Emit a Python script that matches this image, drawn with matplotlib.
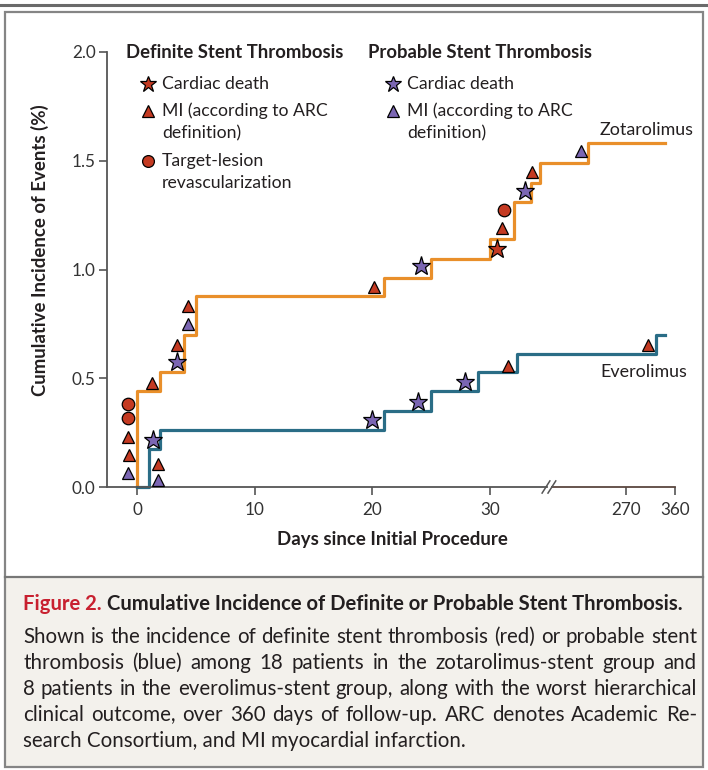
import numpy as np
import matplotlib
matplotlib.use('Agg')
import matplotlib.pyplot as plt
from matplotlib.lines import Line2D
from matplotlib.patches import Rectangle

W, H = 708, 770

# cumulative incidence (%) step curves: day of each step, level after the step
zot_days = [0, 0, 2, 4, 5, 21, 25, 30, 32, 33.5, 34.2, 154, 342]
zot_pct = [0, 0.44, 0.53, 0.70, 0.88, 0.96, 1.05, 1.14, 1.31, 1.40, 1.49, 1.58, 1.58]
evr_days = [0, 1, 2, 21, 25, 29, 32.3, 325, 342]
evr_pct = [0, 0.175, 0.26, 0.35, 0.44, 0.53, 0.61, 0.70, 0.70]

# individual events (worst outcome), d = definite, p = probable
zot_ev_days = [-0.74, -0.65, -0.74, -0.74, -0.74, 1.25, 3.42, 3.37, 4.36, 4.36,
               20.1, 24.1, 30.6, 31.0, 31.2, 33.0, 33.6, 133]
zot_ev_y = [0.064, 0.147, 0.23, 0.316, 0.38, 0.477, 0.576, 0.653, 0.75, 0.83,
            0.92, 1.017, 1.093, 1.19, 1.274, 1.36, 1.446, 1.547]
zot_ev_type = ['pMI', 'dMI', 'dMI', 'dTLR', 'dTLR', 'dMI', 'pCD', 'dMI', 'pMI', 'dMI',
               'dMI', 'pCD', 'dCD', 'dMI', 'dTLR', 'pCD', 'dMI', 'pMI']
evr_ev_days = [1.81, 1.76, 1.33, 20.0, 23.9, 27.9, 31.5, 310]
evr_ev_y = [0.032, 0.106, 0.216, 0.308, 0.392, 0.484, 0.558, 0.653]
evr_ev_type = ['pMI', 'dMI', 'pCD', 'pCD', 'pCD', 'pCD', 'dMI', 'dMI']

x_ticks = [0, 10, 20, 30, 270, 360]
y_ticks = [0, 0.5, 1.0, 1.5, 2.0]

caption_title = 'Figure 2.'
caption_head = 'Cumulative Incidence of Definite or Probable Stent Thrombosis.'
caption_lines = [
    'Shown is the incidence of definite stent thrombosis (red) or probable stent',
    'thrombosis (blue) among 18 patients in the zotarolimus-stent group and',
    '8 patients in the everolimus-stent group, along with the worst hierarchical',
    'clinical outcome, over 360 days of follow-up. ARC denotes Academic Re-',
    'search Consortium, and MI myocardial infarction.',
]

ORANGE = '#e98f2a'
TEAL = '#2a6d86'
RED = '#c43a22'
PURPLE = '#7b66b3'
TXT = '#231f20'
AX = '#555555'

# marker, colour, size in the plot, size in the legend
marker_style = {
    'dCD': ('*', RED, 14, 12),
    'pCD': ('*', PURPLE, 14, 12),
    'dMI': ('^', RED, 9, 8.5),
    'pMI': ('^', PURPLE, 9, 8.5),
    'dTLR': ('o', RED, 9, 8.5),
}

plt.rcParams['font.family'] = ['Lato', 'DejaVu Sans']


# broken x axis: days 0-35 linear, then compressed to reach 270 and 360
def fwd(d):
    d = np.asarray(d, dtype=float)
    return np.where(d <= 35, d, np.where(d <= 270, 35 + (d - 35) * 6.52 / 235,
                                         41.52 + (d - 270) * 4.19 / 90))


def inv(u):
    u = np.asarray(u, dtype=float)
    return np.where(u <= 35, u, np.where(u <= 41.52, 35 + (u - 35) * 235 / 6.52,
                                         270 + (u - 41.52) * 90 / 4.19))


def fx(px):
    return px / W


def fy(py):
    return 1 - py / H


fig = plt.figure(figsize=(W / 100, H / 100), dpi=100)

# frame and caption box
fig.add_artist(Rectangle((fx(5), fy(767)), fx(698), (767 - 577) / H, transform=fig.transFigure,
                         facecolor='#f3f1ec', edgecolor='none', zorder=0))
fig.add_artist(Rectangle((fx(5), fy(767)), fx(698), (767 - 12) / H, transform=fig.transFigure,
                         facecolor='none', edgecolor='#858585', lw=1.6, zorder=5))
fig.add_artist(Line2D([fx(5), fx(703)], [fy(577), fy(577)], transform=fig.transFigure,
                      color='#777777', lw=1.6, zorder=5))
fig.add_artist(Line2D([0, 1], [fy(5), fy(5)], transform=fig.transFigure,
                      color='#6a6a6a', lw=2.2, zorder=5))

ax = fig.add_axes([fx(106.7), fy(487), fx(675 - 106.7), (487 - 52) / H])
ax.set_xscale('function', functions=(fwd, inv))
ax.set_xlim(-2.57, 360)
ax.set_ylim(0, 2.0)
ax.patch.set_alpha(0)

ax.step(zot_days, zot_pct, where='post', color=ORANGE, lw=2.3, zorder=2, clip_on=False)
ax.step(evr_days, evr_pct, where='post', color=TEAL, lw=2.3, zorder=2, clip_on=False)

for days, ys, types in [(zot_ev_days, zot_ev_y, zot_ev_type), (evr_ev_days, evr_ev_y, evr_ev_type)]:
    for d, y, t in zip(days, ys, types):
        m, c, s, _ = marker_style[t]
        ax.plot(d, y, marker=m, color=c, ms=s, mec='black', mew=0.9, ls='none',
                zorder=4, clip_on=False)

for s in ['top', 'right']:
    ax.spines[s].set_visible(False)
ax.spines['left'].set_color(AX)
ax.spines['left'].set_linewidth(1.3)
ax.spines['bottom'].set_color(AX)
ax.spines['bottom'].set_linewidth(1.3)
ax.spines['bottom'].set_bounds(-2.57, float(inv(34.85)))

# after the break the axis continues in a darker brown tone
xt = ax.get_xaxis_transform()
ax.plot([float(inv(35.3)), 360], [0, 0], color='#5b463f', lw=1.3, transform=xt, clip_on=False)
for c in [34.75, 35.25]:
    ax.plot([float(inv(c - 0.33)), float(inv(c + 0.33))], [-0.014, 0.014], color=AX, lw=1.1,
            transform=xt, clip_on=False)

ax.set_xticks(x_ticks)
ax.set_xticklabels([str(v) for v in x_ticks])
ax.set_yticks(y_ticks)
ax.set_yticklabels(['%.1f' % v for v in y_ticks])
ax.tick_params(axis='both', direction='out', length=6, width=1.2, color=AX,
               labelsize=12.3, labelcolor='#333333')
ax.tick_params(axis='x', pad=4.5)
ax.tick_params(axis='y', pad=2)
ax.minorticks_off()

# axis titles
fig.text(fx(40), fy(250), 'Cumulative Incidence of Events (%)', rotation=90, ha='center',
         va='center', fontsize=13.4, fontweight='bold', color=TXT)
fig.text(fx(392), fy(540), 'Days since Initial Procedure', ha='center', va='center',
         fontsize=13.4, fontweight='bold', color=TXT)

# curve labels
fig.text(fx(600), fy(130), 'Zotarolimus', ha='left', va='center', fontsize=12.9, color=TXT)
fig.text(fx(600), fy(372), 'Everolimus', ha='left', va='center', fontsize=12.9, color=TXT)

# legend block
fig.text(fx(126), fy(53), 'Definite Stent Thrombosis', ha='left', va='center',
         fontsize=13.3, fontweight='bold', color=TXT)
fig.text(fx(368), fy(53), 'Probable Stent Thrombosis', ha='left', va='center',
         fontsize=13.3, fontweight='bold', color=TXT)
legend_rows = [
    (148, 84, 'dCD', ['Cardiac death']),
    (148, 111, 'dMI', ['MI (according to ARC', 'definition)']),
    (148, 161, 'dTLR', ['Target-lesion', 'revascularization']),
    (393, 84, 'pCD', ['Cardiac death']),
    (393, 111, 'pMI', ['MI (according to ARC', 'definition)']),
]
for mx, my, t, lines in legend_rows:
    m, c, _, s = marker_style[t]
    fig.add_artist(Line2D([fx(mx)], [fy(my)], marker=m, color=c, ms=s, mec='black', mew=0.9,
                          ls='none', transform=fig.transFigure))
    for i, line in enumerate(lines):
        fig.text(fx(mx + 14), fy(my + i * 22), line, ha='left', va='center', fontsize=12.7,
                 color=TXT)

# caption
fig.canvas.draw()
r = fig.canvas.get_renderer()
t1 = fig.text(fx(23), fy(604), caption_title, ha='left', va='center', fontsize=14.6,
              fontweight='bold', color='#c8202f')
w1 = t1.get_window_extent(r).width
fig.text(fx(23 + w1 + 5), fy(604), caption_head, ha='left', va='center', fontsize=14.6,
         fontweight='bold', color=TXT)

x0, x1 = 23, 697
for i, line in enumerate(caption_lines):
    y = fy(637 + i * 26)
    if i == len(caption_lines) - 1:
        fig.text(fx(x0), y, line, ha='left', va='center', fontsize=14.8, color=TXT)
        continue
    words = line.split(' ')
    arts = [fig.text(0, y, w, ha='left', va='center', fontsize=14.8, color=TXT) for w in words]
    widths = [a.get_window_extent(r).width for a in arts]
    gap = (x1 - x0 - sum(widths)) / (len(words) - 1)
    x = x0
    for a, w in zip(arts, widths):
        a.set_x(fx(x))
        x += w + gap

fig.savefig('out.png', dpi=100)
